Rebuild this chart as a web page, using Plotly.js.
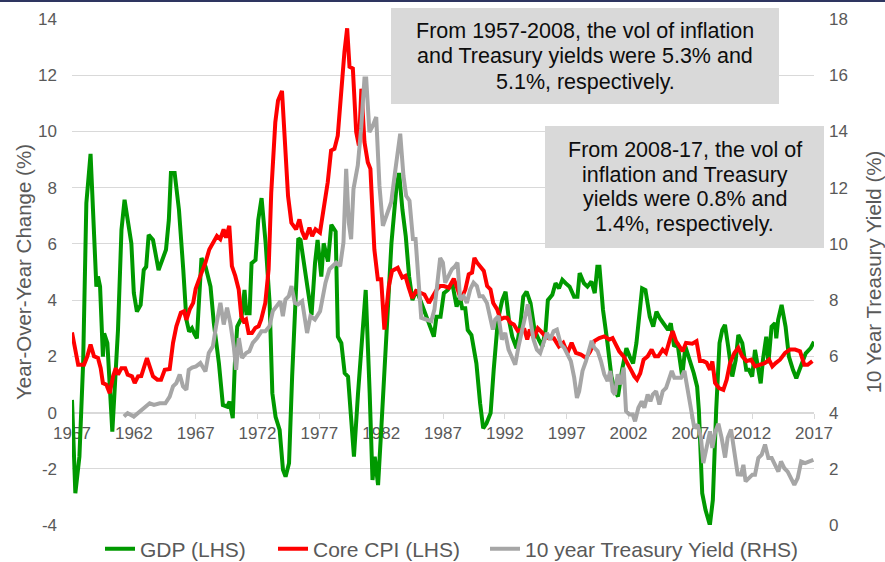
<!DOCTYPE html>
<html><head><meta charset="utf-8">
<script src="https://cdn.plot.ly/plotly-3.0.1.min.js"></script>
<style>html,body{margin:0;padding:0;background:#fff}#chart{width:885px;height:562px}</style>
</head><body><div id="chart"></div>
<script>
// ---- Data ----
const gdpYears = [1957.0,1957.27,1957.6,1957.9,1958.16,1958.5,1958.97,1959.1,1959.27,1959.5,1959.6,1959.86,1960.26,1960.72,1961.0,1961.25,1961.8,1962.0,1962.25,1962.55,1962.8,1963.0,1963.2,1963.55,1964.0,1964.37,1964.6,1964.83,1965.0,1965.3,1965.65,1966.0,1966.25,1966.47,1966.7,1966.9,1967.1,1967.26,1967.47,1967.8,1968.2,1968.47,1968.88,1969.2,1969.55,1969.74,1970.0,1970.17,1970.36,1970.7,1970.95,1971.1,1971.36,1971.52,1971.84,1972.06,1972.33,1972.66,1972.98,1973.2,1973.46,1973.79,1974.06,1974.27,1974.55,1974.8,1975.08,1975.3,1975.48,1975.9,1976.37,1976.65,1976.86,1977.16,1977.35,1977.7,1977.97,1978.32,1978.5,1978.78,1979.05,1979.32,1979.6,1979.8,1980.13,1980.54,1980.75,1981.07,1981.3,1981.48,1981.75,1982.02,1982.43,1982.83,1983.24,1983.45,1983.72,1983.99,1984.26,1984.53,1984.86,1985.26,1985.67,1986.0,1986.26,1986.47,1986.8,1987.07,1987.39,1987.75,1988.1,1988.36,1988.55,1988.8,1989.0,1989.3,1989.7,1990.0,1990.25,1990.52,1990.85,1991.1,1991.44,1991.79,1992.06,1992.33,1992.6,1992.95,1993.27,1993.49,1993.76,1994.08,1994.4,1994.76,1995.03,1995.3,1995.48,1995.84,1996.1,1996.38,1996.65,1996.92,1997.24,1997.6,1997.87,1998.05,1998.4,1998.68,1999.0,1999.27,1999.48,1999.65,1999.94,2000.3,2000.62,2000.89,2001.15,2001.48,2001.83,2002.1,2002.37,2002.64,2002.91,2003.1,2003.37,2003.72,2004.0,2004.26,2004.53,2004.88,2005.2,2005.42,2005.69,2005.96,2006.15,2006.34,2006.6,2006.88,2007.28,2007.55,2007.69,2007.96,2008.23,2008.58,2008.82,2009.09,2009.36,2009.58,2009.8,2010.06,2010.39,2010.67,2010.88,2011.2,2011.52,2011.74,2012.0,2012.23,2012.5,2012.69,2012.87,2013.14,2013.31,2013.57,2013.85,2013.95,2014.1,2014.38,2014.7,2014.97,2015.3,2015.57,2015.92,2016.33,2016.73,2017.0];
const gdpValues = [0.45,-2.87,-1.57,1.75,7.45,9.2,4.48,4.84,4.48,1.99,2.82,2.47,-0.68,2.94,6.5,7.57,6.02,4.25,3.59,3.83,5.07,5.19,6.32,6.14,5.07,5.55,5.79,6.85,8.52,8.52,7.21,5.07,3.3,2.88,3.0,2.8,2.64,3.89,5.49,5.19,4.48,3.18,1.75,0.27,0.21,0.39,-0.2,1.75,3.06,3.36,4.36,3.53,3.53,5.31,5.43,6.85,7.63,6.02,3.89,0.69,-0.15,-0.62,-2.04,-2.28,-1.8,1.28,4.12,6.2,6.14,4.84,3.47,5.31,6.14,4.84,6.02,5.37,6.68,6.44,2.7,2.47,1.4,1.28,-0.5,-1.57,0.69,2.94,4.36,0.69,-2.4,-1.57,-2.58,-0.5,3.06,6.02,8.04,8.52,7.21,6.26,4.84,4.0,4.36,3.89,3.41,2.94,2.7,3.41,3.41,4.25,4.36,4.6,3.77,4.12,3.71,3.71,2.94,2.76,1.75,0.33,-0.56,-0.38,-0.02,1.52,3.3,4.0,4.3,3.3,2.7,2.29,3.18,4.12,4.3,3.89,2.94,2.58,2.35,2.94,4.0,4.19,4.6,4.42,4.72,4.6,4.48,4.12,4.12,4.96,4.6,4.48,4.66,4.25,5.19,5.19,3.65,2.47,1.28,0.8,0.57,1.52,2.29,1.99,1.75,2.47,3.65,4.42,4.36,3.41,3.06,3.59,3.36,3.12,2.94,3.18,2.35,2.47,1.87,1.28,2.35,2.0,1.4,0.92,0.09,-2.87,-3.47,-4.0,-3.11,0.09,2.47,2.94,3.12,2.35,1.28,1.87,2.76,2.47,1.52,1.52,1.28,2.23,1.4,1.04,1.87,2.7,1.75,3.06,3.18,2.64,3.3,3.83,3.06,1.99,1.52,1.22,1.63,2.11,2.29,2.52];

const cpiYears = [1957.0,1957.5,1957.97,1958.24,1958.5,1958.78,1959.1,1959.32,1959.5,1959.78,1960.05,1960.32,1960.54,1960.72,1961.0,1961.3,1961.5,1961.85,1962.07,1962.34,1962.6,1962.82,1963.06,1963.28,1963.55,1963.9,1964.2,1964.5,1964.9,1965.17,1965.44,1965.8,1966.06,1966.25,1966.52,1966.8,1967.0,1967.38,1967.79,1968.1,1968.46,1968.72,1968.99,1969.26,1969.45,1969.72,1969.93,1970.2,1970.48,1970.69,1970.88,1971.07,1971.28,1971.55,1971.82,1972.09,1972.3,1972.63,1972.9,1973.11,1973.44,1973.66,1973.98,1974.2,1974.47,1974.74,1975.12,1975.39,1975.6,1975.87,1976.2,1976.42,1976.69,1977.05,1977.32,1977.68,1977.95,1978.22,1978.49,1978.76,1979.03,1979.25,1979.44,1979.71,1979.98,1980.2,1980.4,1980.65,1980.92,1981.13,1981.45,1981.73,1982.0,1982.26,1982.62,1982.88,1983.34,1983.7,1983.96,1984.23,1984.5,1984.83,1985.15,1985.5,1985.86,1986.18,1986.5,1986.77,1987.07,1987.47,1987.87,1988.14,1988.46,1988.81,1989.08,1989.35,1989.54,1989.76,1990.03,1990.3,1990.57,1990.84,1991.06,1991.38,1991.65,1991.92,1992.19,1992.46,1992.73,1993.05,1993.32,1993.59,1993.81,1994.02,1994.35,1994.67,1994.94,1995.29,1995.56,1995.97,1996.37,1996.72,1997.07,1997.4,1997.75,1998.16,1998.56,1998.91,1999.23,1999.64,2000.04,2000.45,2000.71,2000.99,2001.25,2001.6,2001.93,2002.2,2002.47,2002.69,2002.95,2003.22,2003.55,2003.87,2004.14,2004.41,2004.76,2005.03,2005.38,2005.57,2005.84,2006.11,2006.38,2006.65,2007.16,2007.5,2007.78,2008.05,2008.32,2008.59,2008.78,2009.0,2009.32,2009.67,2009.94,2010.21,2010.56,2010.88,2011.2,2011.55,2011.91,2012.23,2012.64,2013.04,2013.36,2013.63,2013.9,2014.25,2014.66,2015.06,2015.47,2015.87,2016.22,2016.49,2016.87];
const cpiValues = [2.85,1.7,1.7,2.0,2.42,2.0,1.94,1.58,1.05,0.99,0.69,1.29,1.58,1.35,1.58,1.58,1.35,1.29,1.05,1.29,1.3,1.64,1.94,1.64,1.29,1.17,1.17,1.52,1.55,2.48,3.07,3.55,3.6,3.3,3.67,3.9,4.4,4.86,5.33,5.8,6.1,6.28,6.17,6.52,6.22,6.64,5.21,4.86,4.38,3.43,3.25,3.31,2.83,2.83,3.01,3.07,3.31,3.9,5.1,7.82,10.33,11.1,11.44,9.6,7.7,6.75,6.52,6.87,6.45,6.17,6.58,6.28,6.52,6.4,7.24,8.19,9.32,9.38,9.85,11.4,12.83,13.67,12.3,12.24,9.98,9.5,11.52,9.62,8.9,8.67,5.8,4.74,4.74,2.95,4.5,5.04,5.15,4.8,4.86,4.44,4.08,4.32,4.26,4.2,3.9,4.14,4.38,4.5,4.5,4.44,4.76,4.44,4.02,4.38,4.92,4.98,5.5,5.33,5.21,5.04,4.5,4.38,3.9,3.67,3.31,3.37,3.37,3.19,3.13,2.9,2.95,2.95,2.6,2.95,2.65,3.0,2.88,2.7,2.64,2.64,2.35,2.48,2.12,2.48,2.12,2.06,1.94,2.18,2.54,2.65,2.71,2.6,2.65,2.36,2.18,2.0,1.76,1.52,1.29,1.17,1.4,1.88,2.0,2.24,2.0,2.0,2.24,2.12,2.65,2.9,2.54,2.36,2.18,2.48,2.45,2.54,1.83,1.83,1.77,1.52,1.82,1.05,0.87,0.81,1.17,1.76,2.12,2.3,2.0,1.83,1.88,1.64,1.7,1.76,1.88,1.64,1.76,1.88,2.12,2.24,2.24,2.18,1.7,1.7,1.83];

const tsyYears = [1961.2,1961.5,1962.0,1962.47,1962.87,1963.28,1963.63,1964.1,1964.55,1964.9,1965.17,1965.44,1965.71,1965.98,1966.25,1966.44,1966.71,1967.03,1967.38,1967.79,1968.06,1968.39,1968.65,1969.0,1969.27,1969.54,1969.8,1970.08,1970.27,1970.49,1970.75,1971.08,1971.34,1971.62,1971.97,1972.32,1972.64,1972.97,1973.24,1973.58,1973.85,1974.05,1974.26,1974.53,1974.75,1975.02,1975.28,1975.61,1976.01,1976.28,1976.64,1977.06,1977.5,1977.82,1978.1,1978.36,1978.68,1978.95,1979.17,1979.38,1979.57,1979.76,1980.11,1980.38,1980.65,1980.79,1981.05,1981.33,1981.6,1981.86,1982.14,1982.46,1982.81,1983.16,1983.54,1983.8,1984.02,1984.29,1984.57,1984.78,1984.97,1985.24,1985.64,1986.05,1986.31,1986.5,1986.77,1986.99,1987.18,1987.45,1987.72,1987.98,1988.17,1988.39,1988.66,1988.93,1989.2,1989.47,1989.74,1989.95,1990.22,1990.55,1990.82,1991.03,1991.22,1991.49,1991.76,1992.03,1992.3,1992.57,1992.84,1993.11,1993.38,1993.65,1993.86,1994.1,1994.32,1994.59,1994.86,1995.13,1995.4,1995.67,1995.94,1996.21,1996.53,1996.8,1997.07,1997.34,1997.61,1997.83,1998.01,1998.28,1998.56,1998.83,1999.02,1999.23,1999.5,1999.77,2000.04,2000.31,2000.53,2000.72,2000.91,2001.12,2001.34,2001.61,2001.8,2002.07,2002.34,2002.53,2002.8,2003.07,2003.28,2003.55,2003.77,2003.96,2004.23,2004.5,2004.77,2005.04,2005.31,2005.5,2005.71,2005.98,2006.25,2006.52,2006.79,2007.06,2007.32,2007.59,2007.86,2008.05,2008.32,2008.59,2008.78,2009.0,2009.27,2009.53,2009.81,2010.02,2010.29,2010.56,2010.83,2011.1,2011.29,2011.47,2011.75,2012.02,2012.23,2012.5,2012.77,2013.04,2013.31,2013.58,2013.85,2014.12,2014.33,2014.6,2014.87,2015.15,2015.41,2015.68,2015.96,2016.28,2016.6,2016.95];
const tsyValues = [3.86,3.98,3.86,4.04,4.15,4.33,4.27,4.33,4.33,4.57,4.93,5.05,5.35,4.93,4.81,5.52,5.6,5.64,5.76,5.46,6.12,6.36,7.07,7.9,7.13,7.73,7.19,6.36,5.52,6.65,5.94,6.12,6.18,6.48,6.65,6.89,6.89,7.07,7.61,7.79,7.96,7.43,8.02,8.14,8.5,7.9,7.85,7.96,6.83,7.43,7.31,7.6,8.62,9.1,9.21,9.33,9.21,10.05,12.67,10.76,10.17,11.95,12.79,14.1,15.88,15.88,13.98,14.21,14.51,12.07,10.64,11.0,11.48,12.67,13.92,12.43,11.71,11.54,10.17,10.17,8.86,7.37,7.31,7.25,7.67,8.5,9.5,9.33,8.62,8.86,9.1,9.21,9.33,8.02,8.14,7.9,8.38,8.62,8.5,8.14,8.14,7.9,7.43,6.95,7.31,7.43,6.6,6.83,6.24,6.0,5.7,6.36,6.95,7.49,7.85,7.2,6.6,6.24,6.12,6.48,6.83,6.6,6.89,6.95,6.42,6.3,6.07,5.83,5.24,4.52,4.76,5.48,5.83,6.31,6.55,6.31,6.19,5.83,5.36,5.12,5.48,4.76,4.64,5.36,5.0,5.6,4.05,3.93,3.93,3.69,4.17,4.4,4.17,4.64,4.4,4.64,4.76,4.29,4.76,4.88,5.24,5.48,5.24,5.24,5.24,5.48,4.76,4.0,3.45,3.57,3.1,2.2,2.74,3.33,2.74,3.3,3.6,3.1,2.4,3.1,3.4,2.5,1.8,1.79,2.14,1.55,1.67,1.79,1.79,2.38,2.5,2.86,2.38,2.38,2.14,1.9,2.26,2.02,1.9,1.67,1.43,1.67,2.26,2.2,2.26,2.32];

const xTickVals = [1957,1962,1967,1972,1977,1982,1987,1992,1997,2002,2007,2012,2017];
const xTickLabels = ['1957','1962','1967','1972','1977','1982','1987','1992','1997','2002','2007','2012','2017'];
const leftTickVals = [-4,-2,0,2,4,6,8,10,12,14];
const leftTickLabels = ['-4','-2','0','2','4','6','8','10','12','14'];
const rightTickVals = [0,2,4,6,8,10,12,14,16,18];
const rightTickLabels = ['0','2','4','6','8','10','12','14','16','18'];
const seriesNames = ['GDP (LHS)', 'Core CPI (LHS)', '10 year Treasury Yield (RHS)'];
const leftAxisTitle = 'Year-Over-Year Change (%)';
const rightAxisTitle = '10 Year Treasury Yield (%)';
const note1Lines = ['From 1957-2008, the vol of inflation', 'and Treasury yields were 5.3% and', '5.1%, respectively.'];
const note2Lines = ['From 2008-17, the vol of', 'inflation and Treasury', 'yields were 0.8% and', '1.4%, respectively.'];

const FONT = '"Liberation Sans", Arial, Helvetica, sans-serif';
const traces = [
  {x: gdpYears, y: gdpValues, name: seriesNames[0], type: 'scatter', mode: 'lines', yaxis: 'y', legend: 'legend',
   line: {color: '#009900', width: 4}, hoverinfo: 'skip'},
  {x: cpiYears, y: cpiValues, name: seriesNames[1], type: 'scatter', mode: 'lines', yaxis: 'y', legend: 'legend2',
   line: {color: '#ff0000', width: 4}, hoverinfo: 'skip'},
  {x: tsyYears, y: tsyValues, name: seriesNames[2], type: 'scatter', mode: 'lines', yaxis: 'y2', legend: 'legend3',
   line: {color: '#a6a6a6', width: 4}, hoverinfo: 'skip'}
];

function legendAt(px) {
  return {orientation: 'h', xref: 'container', yref: 'container', x: px / 885, xanchor: 'left',
          y: 1 - 549 / 562, yanchor: 'middle', font: {family: FONT, size: 21, color: '#595959'},
          bgcolor: 'rgba(0,0,0,0)', borderwidth: 0};
}

// Text boxes: line centres in pixels of the 885x562 picture, converted to paper fractions
const plotTop = 19, plotBottom = 525, plotLeft = 72, plotRight = 814;
const py = (p) => (plotBottom - p) / (plotBottom - plotTop);
const px = (p) => (p - plotLeft) / (plotRight - plotLeft);
const note1Y = [30.7, 56.3, 81.9];
const note2Y = [149.7, 174.5, 199.3, 224.0];
const annotations = [];
note1Lines.forEach((t, i) => annotations.push({xref: 'paper', yref: 'paper', x: px(585), y: py(note1Y[i]),
  xanchor: 'center', yanchor: 'middle', text: t, showarrow: false, font: {family: FONT, size: 21.5, color: '#0d0d0d'}}));
note2Lines.forEach((t, i) => annotations.push({xref: 'paper', yref: 'paper', x: px(684.5), y: py(note2Y[i]),
  xanchor: 'center', yanchor: 'middle', text: t, showarrow: false, font: {family: FONT, size: 21.5, color: '#0d0d0d'}}));

const layout = {
  width: 885, height: 562,
  margin: {l: plotLeft, r: 885 - plotRight, t: plotTop, b: 562 - plotBottom, pad: 0, autoexpand: false},
  paper_bgcolor: '#ffffff', plot_bgcolor: '#ffffff',
  font: {family: FONT, color: '#595959', size: 17},
  showlegend: true,
  legend: legendAt(100),
  legend2: legendAt(273),
  legend3: legendAt(485),
  xaxis: {range: [1957, 2017], tickmode: 'array', tickvals: xTickVals, ticktext: xTickLabels,
          anchor: 'free', position: 4/18, showgrid: false, zeroline: false,
          showline: true, linecolor: '#d9d9d9', linewidth: 1,
          ticks: 'outside', ticklen: 5, tickcolor: '#d9d9d9', tickwidth: 1,
          tickfont: {family: FONT, size: 17, color: '#595959'}, layer: 'below traces', automargin: false, fixedrange: true},
  yaxis: {range: [-4, 14], tickmode: 'array', tickvals: leftTickVals, ticktext: leftTickLabels,
          showgrid: true, gridcolor: '#d9d9d9', gridwidth: 1,
          zeroline: false, showline: false, ticks: '', ticklabelstandoff: 14,
          tickfont: {family: FONT, size: 17, color: '#595959'}, automargin: false, fixedrange: true,
          title: {text: leftAxisTitle, font: {family: FONT, size: 20.5, color: '#595959'}, standoff: 0}},
  yaxis2: {range: [0, 18], tickmode: 'array', tickvals: rightTickVals, ticktext: rightTickLabels,
           overlaying: 'y', side: 'right', showgrid: false,
           zeroline: false, showline: false, ticks: '', ticklabelstandoff: 14,
           tickfont: {family: FONT, size: 17, color: '#595959'}, automargin: false, fixedrange: true,
           title: {text: rightAxisTitle, font: {family: FONT, size: 20.5, color: '#595959'}, standoff: 20}},
  shapes: [
    {type: 'rect', xref: 'paper', yref: 'paper', x0: -0.2, x1: 1.2, y0: py(2), y1: py(-1),
     fillcolor: '#2e3560', line: {width: 0}, layer: 'above'},
    {type: 'rect', xref: 'paper', yref: 'paper', x0: px(391), x1: px(779), y0: py(104), y1: py(8),
     fillcolor: '#d9d9d9', line: {width: 0}, layer: 'above'},
    {type: 'rect', xref: 'paper', yref: 'paper', x0: px(545), x1: px(824), y0: py(248), y1: py(126),
     fillcolor: '#d9d9d9', line: {width: 0}, layer: 'above'}
  ],
  annotations: annotations
};

Plotly.newPlot('chart', traces, layout, {displayModeBar: false, staticPlot: true});
</script>
</body></html>
